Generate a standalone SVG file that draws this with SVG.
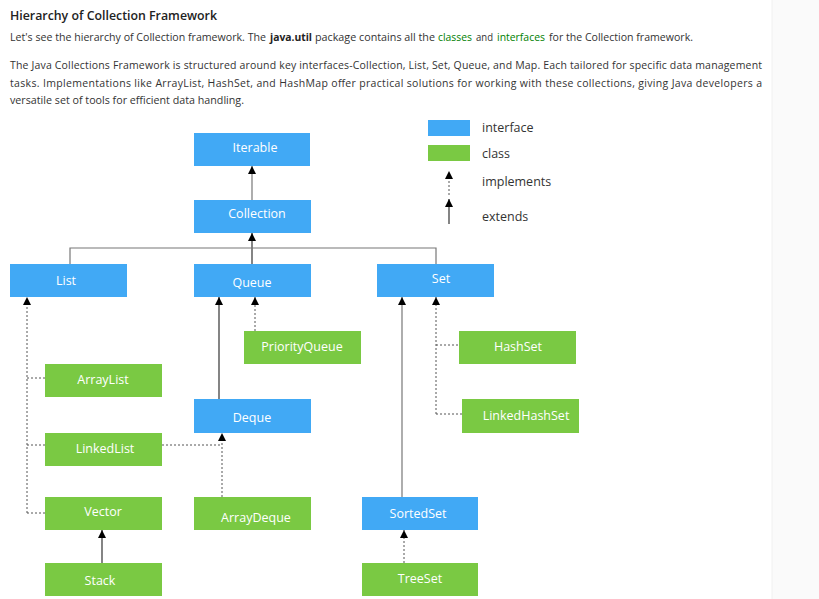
<svg xmlns="http://www.w3.org/2000/svg" width="819" height="599" viewBox="0 0 819 599">
<style>
  .body { font-family: "Open Sans", "Noto Sans", sans-serif; font-size: 10.5px; fill: #333; }
  .green { fill: #008000; }
  .iface { fill: #41A9F5; }
  .cls { fill: #7AC943; }
  .lbl { font-family: "Open Sans", "Noto Sans", sans-serif; font-size: 12.5px; fill: #fff; text-anchor: middle; }
  .leg { font-family: "Open Sans", "Noto Sans", sans-serif; font-size: 12.5px; fill: #333; }
  .solid { stroke: #333; stroke-width: 1.2; fill: none; }
  .gray { stroke: #777; stroke-width: 1.2; fill: none; }
  .dash { stroke: #555; stroke-width: 1; stroke-dasharray: 2 2; fill: none; }
</style>
<defs>
  <marker id="arr" markerUnits="userSpaceOnUse" markerWidth="8" markerHeight="8" viewBox="0 0 7 7" refX="7" refY="3.5" orient="auto">
    <path d="M0,0 L7,3.5 L0,7 z" fill="#000"/>
  </marker>
</defs>
<rect width="819" height="599" fill="#fff"/>
<rect x="772" y="0" width="47" height="599" fill="#fafafa"/>
<line x1="772" y1="0" x2="772" y2="599" stroke="#f0f0f0" stroke-width="1"/>

<g id="text-header">
  <text x="10" y="20" font-family="'Open Sans', 'Noto Sans', sans-serif" font-size="13px" font-weight="600" fill="#222" textLength="207" lengthAdjust="spacingAndGlyphs">Hierarchy of Collection Framework</text>
  <text class="body" y="41">
    <tspan x="10" textLength="256" lengthAdjust="spacingAndGlyphs">Let's see the hierarchy of Collection framework. The</tspan>
    <tspan x="270" font-weight="bold" fill="#222" textLength="42" lengthAdjust="spacingAndGlyphs">java.util</tspan>
    <tspan x="315" textLength="120" lengthAdjust="spacingAndGlyphs">package contains all the</tspan>
    <tspan x="438" class="green" textLength="34" lengthAdjust="spacingAndGlyphs">classes</tspan>
    <tspan x="476" textLength="17" lengthAdjust="spacingAndGlyphs">and</tspan>
    <tspan x="497" class="green" textLength="48" lengthAdjust="spacingAndGlyphs">interfaces</tspan>
    <tspan x="549" textLength="144" lengthAdjust="spacingAndGlyphs">for the Collection framework.</tspan>
  </text>
  <text class="body" x="10" y="69" textLength="752" lengthAdjust="spacing">The Java Collections Framework is structured around key interfaces-Collection, List, Set, Queue, and Map. Each tailored for specific data management</text>
  <text class="body" x="10" y="87" textLength="752" lengthAdjust="spacing">tasks. Implementations like ArrayList, HashSet, and HashMap offer practical solutions for working with these collections, giving Java developers a</text>
  <text class="body" x="10" y="104" textLength="234" lengthAdjust="spacingAndGlyphs">versatile set of tools for efficient data handling.</text>
</g>

<g id="legend">
  <rect class="iface" x="428" y="120" width="42" height="16"/>
  <rect class="cls" x="428" y="145" width="42" height="16"/>
  <line class="dash" x1="449" y1="195" x2="449" y2="171" marker-end="url(#arr)"/>
  <line class="solid" x1="449" y1="224" x2="449" y2="199" marker-end="url(#arr)"/>
  <text class="leg" x="482" y="132">interface</text>
  <text class="leg" x="482" y="158">class</text>
  <text class="leg" x="482" y="186">implements</text>
  <text class="leg" x="482" y="221">extends</text>
</g>

<g id="connectors">
  <line class="gray" x1="252" y1="200" x2="252" y2="166" marker-end="url(#arr)"/>
  <line class="solid" x1="252" y1="264" x2="252" y2="233" marker-end="url(#arr)"/>
  <path class="gray" d="M70,264 V248 H436 V264"/>
  <line class="dash" x1="27" y1="513" x2="27" y2="297" marker-end="url(#arr)"/>
  <path class="dash" d="M27,378 H45 M27,445 H45 M27,513 H45"/>
  <line class="solid" x1="219" y1="399" x2="219" y2="297" marker-end="url(#arr)"/>
  <line class="dash" x1="255" y1="331" x2="255" y2="297" marker-end="url(#arr)"/>
  <path class="dash" d="M162,445 H222"/>
  <line class="dash" x1="222" y1="497" x2="222" y2="433" marker-end="url(#arr)"/>
  <line class="solid" x1="102" y1="563" x2="102" y2="530" marker-end="url(#arr)"/>
  <line class="gray" x1="402" y1="497" x2="402" y2="297" marker-end="url(#arr)"/>
  <line class="dash" x1="436" y1="414" x2="436" y2="297" marker-end="url(#arr)"/>
  <path class="dash" d="M436,345 H459 M436,414 H462"/>
  <line class="dash" x1="404" y1="563" x2="404" y2="530" marker-end="url(#arr)"/>
</g>

<g id="Iterable"><rect class="iface" x="194" y="133" width="116" height="33"/><text class="lbl" x="255" y="152">Iterable</text></g>
<g id="Collection"><rect class="iface" x="194" y="200" width="117" height="33"/><text class="lbl" x="257" y="218">Collection</text></g>
<g id="List"><rect class="iface" x="10" y="264" width="117" height="33"/><text class="lbl" x="66" y="285">List</text></g>
<g id="Queue"><rect class="iface" x="194" y="264" width="117" height="33"/><text class="lbl" x="252" y="287">Queue</text></g>
<g id="Set"><rect class="iface" x="377" y="264" width="117" height="33"/><text class="lbl" x="441" y="283">Set</text></g>
<g id="PriorityQueue"><rect class="cls" x="244" y="331" width="117" height="33"/><text class="lbl" x="302" y="351">PriorityQueue</text></g>
<g id="ArrayList"><rect class="cls" x="45" y="364" width="117" height="33"/><text class="lbl" x="103" y="384">ArrayList</text></g>
<g id="Deque"><rect class="iface" x="194" y="399" width="117" height="34"/><text class="lbl" x="252" y="422">Deque</text></g>
<g id="LinkedList"><rect class="cls" x="45" y="433" width="117" height="33"/><text class="lbl" x="105" y="453">LinkedList</text></g>
<g id="Vector"><rect class="cls" x="45" y="497" width="117" height="33"/><text class="lbl" x="103" y="516">Vector</text></g>
<g id="ArrayDeque"><rect class="cls" x="194" y="497" width="117" height="33"/><text class="lbl" x="256" y="522">ArrayDeque</text></g>
<g id="Stack"><rect class="cls" x="45" y="563" width="117" height="33"/><text class="lbl" x="100" y="585">Stack</text></g>
<g id="SortedSet"><rect class="iface" x="362" y="497" width="116" height="33"/><text class="lbl" x="418" y="518">SortedSet</text></g>
<g id="TreeSet"><rect class="cls" x="362" y="563" width="116" height="33"/><text class="lbl" x="420" y="583">TreeSet</text></g>
<g id="HashSet"><rect class="cls" x="459" y="331" width="117" height="33"/><text class="lbl" x="518" y="351">HashSet</text></g>
<g id="LinkedHashSet"><rect class="cls" x="462" y="399" width="117" height="34"/><text class="lbl" x="526" y="420">LinkedHashSet</text></g>
</svg>
